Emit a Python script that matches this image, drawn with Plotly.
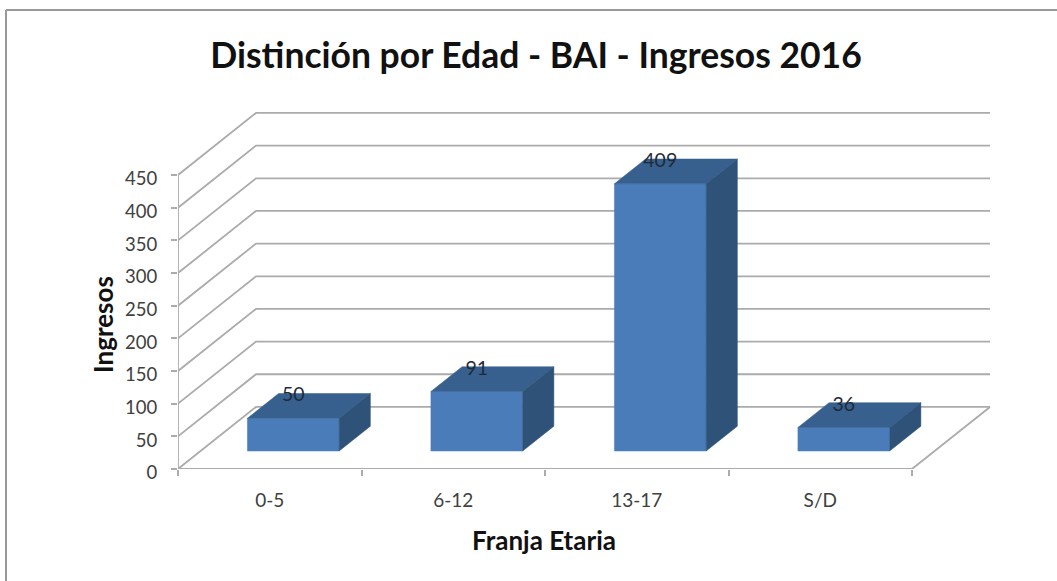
import plotly.graph_objects as go

categories = ["0-5", "6-12", "13-17", "S/D"]
ingresos = [50, 91, 409, 36]
y_ticks = [0, 50, 100, 150, 200, 250, 300, 350, 400, 450]

# oblique projection of the depth axis, in axis units
DEPTH_X = 0.425
DEPTH_Y = 95.0
BAR_NEAR = 0.29
BAR_FAR = 0.69
LABEL_DEPTH = 0.64
BAR_WIDTH = 0.5
BAR_CENTER = 0.505
FRONT = "#4A7CBA"
TOP = "#37608F"
SIDE = "#2F5279"
GRID = "#ABABAB"
FONT = "Lato"


def proj(x, v, d):
    return x + d * DEPTH_X, v + d * DEPTH_Y


def poly(points, color):
    xs, ys = zip(*[proj(*p) for p in points + points[:1]])
    return go.Scatter(x=xs, y=ys, mode="lines", fill="toself", fillcolor=color,
                      line=dict(color=color, width=0.5), hoverinfo="skip", showlegend=False)


fig = go.Figure()
n = len(categories)
gx, gy = [], []
for v in y_ticks:
    for p in [(0, v, 0), (0, v, 1), (n, v, 1)]:
        a, b = proj(*p)
        gx.append(a)
        gy.append(b)
    gx.append(None)
    gy.append(None)
for p in [(n, 0, 1), (n, 0, 0), (0, 0, 0)]:
    a, b = proj(*p)
    gx.append(a)
    gy.append(b)
fig.add_trace(go.Scatter(x=gx, y=gy, mode="lines", line=dict(color=GRID, width=1.8),
                         hoverinfo="skip", showlegend=False))
fig.add_trace(go.Scatter(x=[0, 0], y=[0, y_ticks[-1]], mode="lines", line=dict(color=GRID, width=1.8),
                         hoverinfo="skip", showlegend=False))

lx, ly = [], []
for i, v in enumerate(ingresos):
    l = i + BAR_CENTER - BAR_WIDTH / 2
    r = i + BAR_CENTER + BAR_WIDTH / 2
    fig.add_trace(poly([(l, 0, BAR_NEAR), (r, 0, BAR_NEAR), (r, v, BAR_NEAR), (l, v, BAR_NEAR)], FRONT))
    fig.add_trace(poly([(l, v, BAR_NEAR), (r, v, BAR_NEAR), (r, v, BAR_FAR), (l, v, BAR_FAR)], TOP))
    fig.add_trace(poly([(r, 0, BAR_NEAR), (r, 0, BAR_FAR), (r, v, BAR_FAR), (r, v, BAR_NEAR)], SIDE))
    lx.append(proj(i + BAR_CENTER, v, BAR_NEAR)[0])
    ly.append(proj(i + BAR_CENTER, v, LABEL_DEPTH)[1])

fig.add_trace(go.Scatter(x=lx, y=ly, mode="text", text=[str(v) for v in ingresos],
                         textposition="middle center",
                         textfont=dict(family=FONT, size=19.5, color="#1F2A36"),
                         hoverinfo="skip", showlegend=False))

fig.update_layout(
    width=1057, height=581,
    margin=dict(l=178, r=66, t=112, b=112),
    paper_bgcolor="white", plot_bgcolor="white",
    font=dict(family=FONT, color="#404040"),
    title=dict(text="<b>Distinción por Edad - BAI - Ingresos 2016</b>",
               x=536 / 1057, xanchor="center", y=1 - 56 / 581, yanchor="middle",
               font=dict(family=FONT, size=35.5, color="#111111")),
    xaxis=dict(range=[0, 813 / 183.5], showgrid=False, zeroline=False, showline=False,
               tickvals=[i + 0.5 for i in range(n)], ticktext=categories,
               ticks="", ticklabelstandoff=18, tickfont=dict(family=FONT, size=19, color="#404040"),
               minor=dict(tickvals=list(range(n + 1)), ticks="outside", ticklen=6, tickwidth=1.8,
                          tickcolor=GRID, showgrid=False)),
    yaxis=dict(range=[0, 357 / 0.6533], showgrid=False, zeroline=False, showline=False,
               tickvals=y_ticks, ticks="outside", ticklen=6, tickwidth=1.8, tickcolor=GRID,
               ticklabelstandoff=10, ticklabelshift=4, tickfont=dict(family=FONT, size=18.5, color="#404040")),
    annotations=[
        dict(text="<b>Ingresos</b>", xref="paper", yref="paper", x=(103 - 178) / 813, y=(469 - 325) / 357,
             textangle=-90, showarrow=False, xanchor="center", yanchor="middle",
             font=dict(family=FONT, size=26, color="#111111")),
        dict(text="<b>Franja Etaria</b>", xref="paper", yref="paper", x=(544 - 178) / 813, y=(469 - 540) / 357,
             showarrow=False, xanchor="center", yanchor="middle",
             font=dict(family=FONT, size=26, color="#111111")),
    ],
    shapes=[
        dict(type="line", xref="paper", yref="paper", x0=(6 - 178) / 813, x1=(6 - 178) / 813,
             y0=(469 - 10) / 357, y1=(469 - 581) / 357, line=dict(color="#999999", width=2)),
        dict(type="line", xref="paper", yref="paper", x0=(6 - 178) / 813, x1=(1057 - 178) / 813,
             y0=(469 - 10) / 357, y1=(469 - 10) / 357, line=dict(color="#999999", width=2)),
    ],
)
fig.write_html("out.html", config={"displayModeBar": False}, post_script="document.body.style.margin='0';")
